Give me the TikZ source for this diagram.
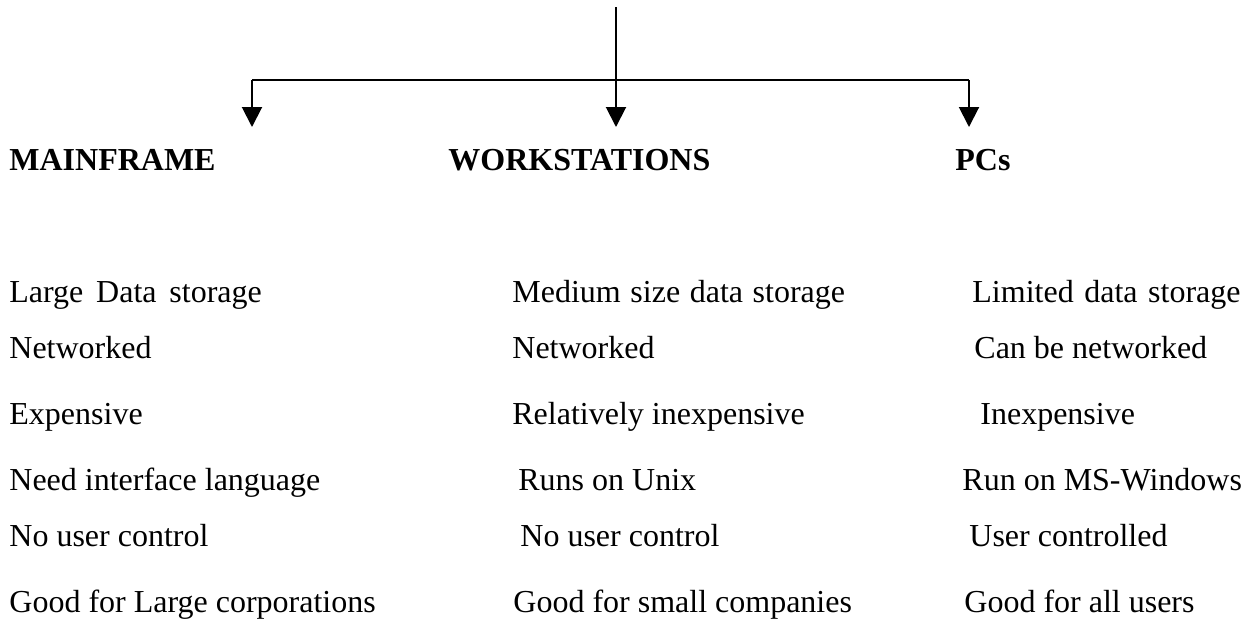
\documentclass[tikz,border=0pt]{standalone}
\usepackage{fontspec}
\setmainfont{Liberation Serif}
\usetikzlibrary{arrows.meta}
\begin{document}
\begin{tikzpicture}[x=0.5pt,y=-0.5pt,
  line/.style={line width=1pt},
  downarrow/.style={line, -{Triangle[width=10pt,length=10pt]}},
  head/.style={anchor=base west, inner sep=0pt, font=\fontsize{16}{19}\selectfont\bfseries},
  item/.style={anchor=base west, inner sep=0pt, font=\fontsize{16}{19}\selectfont}]
\useasboundingbox (0,0) rectangle (1254,622);

% branching connector
\coordinate (top) at (616,7);
\coordinate (hub) at (616,80);
\coordinate (lc) at (252,80);
\coordinate (rc) at (969,80);
\coordinate (la) at (252,127);
\coordinate (ca) at (616,127);
\coordinate (ra) at (969,127);
\draw[line] (top) -- (hub);
\draw[line] (lc) -- (rc);
\draw[downarrow] (lc) -- (la);
\draw[downarrow] (hub) -- (ca);
\draw[downarrow] (rc) -- (ra);

% column headings
\node[head] (mainframe) at (9,170) {MAINFRAME};
\node[head] (workstations) at (448,170) {WORKSTATIONS};
\node[head] (pcs) at (955,170) {PCs};

% mainframe properties
\node[item] (m1) at (9,302) {Large\hspace{0.4em}Data\hspace{0.4em}storage};
\node[item] (m2) at (9,358) {Networked};
\node[item] (m3) at (9,424) {Expensive};
\node[item] (m4) at (9,490) {Need interface language};
\node[item] (m5) at (9,546) {No user control};
\node[item] (m6) at (9,612) {Good for Large corporations};

% workstation properties
\node[item] (w1) at (512,302) {Medium\hspace{0.3em}size\hspace{0.3em}data\hspace{0.3em}storage};
\node[item] (w2) at (512,358) {Networked};
\node[item] (w3) at (512,424) {Relatively inexpensive};
\node[item] (w4) at (518,490) {Runs on Unix};
\node[item] (w5) at (520,546) {No user control};
\node[item] (w6) at (513,612) {Good for small companies};

% PC properties
\node[item] (p1) at (972,302) {Limited\hspace{0.33em}data\hspace{0.33em}storage};
\node[item] (p2) at (974,358) {Can be networked};
\node[item] (p3) at (980,424) {Inexpensive};
\node[item] (p4) at (962,490) {Run on MS-Windows};
\node[item] (p5) at (969,546) {User controlled};
\node[item] (p6) at (964,612) {Good for all users};
\end{tikzpicture}
\end{document}
